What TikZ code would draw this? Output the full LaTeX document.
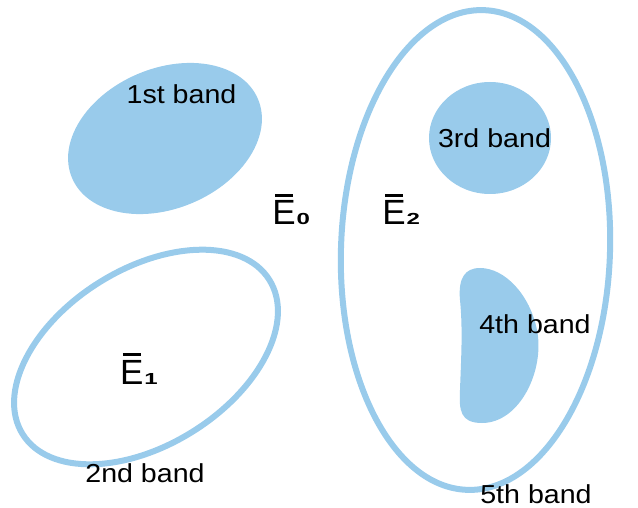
\documentclass[tikz,border=0pt]{standalone}
\usepackage{fontspec}
\usepackage{graphicx}
\setmainfont{Liberation Sans}
\newfontfamily\bandfont{Liberation Sans}[FakeStretch=1.1]
\definecolor{bandblue}{RGB}{153,203,235}
\newcommand\Ebarsub[1]{\fontsize{35}{40}\selectfont\rlap{\hspace{2.8pt}\raisebox{28pt}{\rule{18pt}{3pt}}}E\hspace{1pt}\scalebox{1.5}[1]{\fontsize{16}{16}\selectfont\bfseries #1}}
\begin{document}
\begin{tikzpicture}[x=1pt,y=-1pt,
  bandlabel/.style={inner sep=0pt,anchor=base,font=\bandfont\fontsize{26}{30}\selectfont},
  elabel/.style={inner sep=0pt,anchor=base west},
  filledband/.style={fill=bandblue,draw=none},
  ringband/.style={draw=bandblue,line width=6pt}]
\useasboundingbox (0,0) rectangle (638,508);
% 1st band (filled ellipse)
\fill[filledband,rotate around={23:(165,138.5)}] (165,138.5) ellipse [x radius=101, y radius=70];
% 2nd band (ring)
\draw[ringband,rotate around={32:(146,357)}] (146,357) ellipse [x radius=145.5, y radius=88];
% 5th band (large ring)
\draw[ringband,rotate around={-2:(475.5,250)}] (475.5,250) ellipse [x radius=134.5, y radius=240];
% 3rd band
\fill[filledband] (490,138) ellipse [x radius=61, y radius=56];
% 4th band (bean)
\fill[filledband] (480,268) .. controls (505,268) and (530,295) .. (537,330)
  .. controls (545,370) and (520,423) .. (482,423)
  .. controls (460,423) and (459,410) .. (460,390)
  .. controls (461,360) and (463,330) .. (460,300)
  .. controls (458,278) and (465,268) .. (480,268) -- cycle;
% labels
\node[bandlabel] (l1) at (181.5,104) {1st band};
\node[bandlabel] (l2) at (145,482) {2nd band};
\node[bandlabel] (l3) at (494.5,148) {3rd band};
\node[bandlabel] (l4) at (535,333) {4th band};
\node[bandlabel] (l5) at (536,503.5) {5th band};
\node[elabel] (e0) at (272.2,225) {\Ebarsub{0}};
\node[elabel] (e2) at (382.2,225) {\Ebarsub{2}};
\node[elabel] (e1) at (119.9,384) {\Ebarsub{1}};
\end{tikzpicture}
\end{document}
